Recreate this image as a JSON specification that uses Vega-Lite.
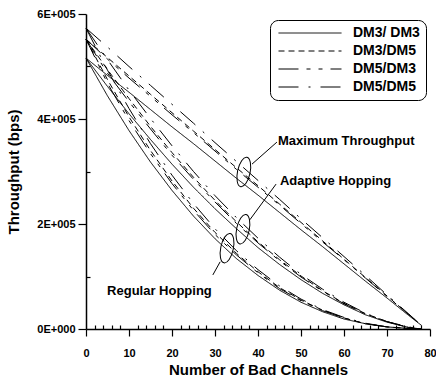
{
  "$schema": "https://vega.github.io/schema/vega-lite/v6.json",
  "width": 344,
  "height": 315,
  "autosize": {"type": "none"},
  "padding": {"left": 86, "top": 14, "right": 6, "bottom": 51},
  "background": "white",
  "config": {
    "view": {"stroke": null},
    "font": "Liberation Sans",
    "axis": {
      "domainColor": "black", "domainWidth": 1.5, "tickColor": "black", "tickWidth": 1.2,
      "labelColor": "black", "labelFont": "Liberation Sans", "labelFontWeight": "bold", "labelFontSize": 11,
      "titleColor": "black", "titleFont": "Liberation Sans", "titleFontWeight": "bold", "titleFontSize": 15,
      "grid": false, "labelOverlap": false, "labelFlush": false
    }
  },
  "encoding": {
    "x": {
      "field": "n", "type": "quantitative",
      "scale": {"domain": [0, 80], "nice": false},
      "axis": {
        "title": "Number of Bad Channels",
        "values": [0,2,4,6,8,10,12,14,16,18,20,22,24,26,28,30,32,34,36,38,40,42,44,46,48,50,52,54,56,58,60,62,64,66,68,70,72,74,76,78,80],
        "labelExpr": "datum.value % 10 == 0 ? datum.value : ''",
        "tickSize": {"condition": {"test": "datum.value % 10 == 0", "value": 7}, "value": -4},
        "labelPadding": 11,
        "titlePadding": 4
      }
    },
    "y": {
      "field": "tp", "type": "quantitative",
      "scale": {"domain": [0, 600000], "nice": false},
      "axis": {
        "title": "Throughput (bps)",
        "values": [0,100000,200000,300000,400000,500000,600000],
        "labelExpr": "datum.value % 200000 == 0 ? (datum.value == 0 ? '0E+000' : (datum.value/100000) + 'E+005') : ''",
        "tickSize": {"condition": {"test": "datum.value % 200000 == 0", "value": 8}, "value": -4},
        "labelPadding": 3,
        "titlePadding": 15
      }
    }
  },
  "layer": [
    {
      "data": {"values": [
        {"group": "Maximum", "n": 0, "DM3/ DM3": 516000, "DM3/DM5": 552000, "DM5/DM3": 552000, "DM5/DM5": 573000},
        {"group": "Maximum", "n": 5, "DM3/ DM3": 483000, "DM3/DM5": 517000, "DM5/DM3": 514000, "DM5/DM5": 537000},
        {"group": "Maximum", "n": 10, "DM3/ DM3": 451000, "DM3/DM5": 482000, "DM5/DM3": 478000, "DM5/DM5": 500000},
        {"group": "Maximum", "n": 15, "DM3/ DM3": 418000, "DM3/DM5": 447000, "DM5/DM3": 443000, "DM5/DM5": 464000},
        {"group": "Maximum", "n": 20, "DM3/ DM3": 385000, "DM3/DM5": 412000, "DM5/DM3": 408000, "DM5/DM5": 428000},
        {"group": "Maximum", "n": 25, "DM3/ DM3": 353000, "DM3/DM5": 377000, "DM5/DM3": 374000, "DM5/DM5": 392000},
        {"group": "Maximum", "n": 30, "DM3/ DM3": 320000, "DM3/DM5": 342000, "DM5/DM3": 339000, "DM5/DM5": 355000},
        {"group": "Maximum", "n": 35, "DM3/ DM3": 287000, "DM3/DM5": 307000, "DM5/DM3": 304000, "DM5/DM5": 319000},
        {"group": "Maximum", "n": 40, "DM3/ DM3": 255000, "DM3/DM5": 273000, "DM5/DM3": 270000, "DM5/DM5": 283000},
        {"group": "Maximum", "n": 45, "DM3/ DM3": 222000, "DM3/DM5": 238000, "DM5/DM3": 236000, "DM5/DM5": 247000},
        {"group": "Maximum", "n": 50, "DM3/ DM3": 189000, "DM3/DM5": 203000, "DM5/DM3": 201000, "DM5/DM5": 210000},
        {"group": "Maximum", "n": 55, "DM3/ DM3": 157000, "DM3/DM5": 168000, "DM5/DM3": 166000, "DM5/DM5": 174000},
        {"group": "Maximum", "n": 60, "DM3/ DM3": 124000, "DM3/DM5": 133000, "DM5/DM3": 132000, "DM5/DM5": 138000},
        {"group": "Maximum", "n": 65, "DM3/ DM3": 91000, "DM3/DM5": 98000, "DM5/DM3": 97000, "DM5/DM5": 102000},
        {"group": "Maximum", "n": 70, "DM3/ DM3": 59000, "DM3/DM5": 63000, "DM5/DM3": 62000, "DM5/DM5": 65000},
        {"group": "Maximum", "n": 75, "DM3/ DM3": 26000, "DM3/DM5": 28000, "DM5/DM3": 28000, "DM5/DM5": 29000},
        {"group": "Maximum", "n": 78, "DM3/ DM3": 7000, "DM3/DM5": 7000, "DM5/DM3": 7000, "DM5/DM5": 7000},
        {"group": "Adaptive", "n": 0, "DM3/ DM3": 516000, "DM3/DM5": 552000, "DM5/DM3": 552000, "DM5/DM5": 573000},
        {"group": "Adaptive", "n": 5, "DM3/ DM3": 462000, "DM3/DM5": 494000, "DM5/DM3": 487000, "DM5/DM5": 513000},
        {"group": "Adaptive", "n": 10, "DM3/ DM3": 410000, "DM3/DM5": 439000, "DM5/DM3": 433000, "DM5/DM5": 455000},
        {"group": "Adaptive", "n": 15, "DM3/ DM3": 361000, "DM3/DM5": 386000, "DM5/DM3": 381000, "DM5/DM5": 401000},
        {"group": "Adaptive", "n": 20, "DM3/ DM3": 314000, "DM3/DM5": 336000, "DM5/DM3": 331000, "DM5/DM5": 349000},
        {"group": "Adaptive", "n": 25, "DM3/ DM3": 270000, "DM3/DM5": 289000, "DM5/DM3": 285000, "DM5/DM5": 300000},
        {"group": "Adaptive", "n": 30, "DM3/ DM3": 229000, "DM3/DM5": 245000, "DM5/DM3": 242000, "DM5/DM5": 254000},
        {"group": "Adaptive", "n": 35, "DM3/ DM3": 191000, "DM3/DM5": 204000, "DM5/DM3": 201000, "DM5/DM5": 212000},
        {"group": "Adaptive", "n": 40, "DM3/ DM3": 155000, "DM3/DM5": 166000, "DM5/DM3": 164000, "DM5/DM5": 173000},
        {"group": "Adaptive", "n": 45, "DM3/ DM3": 123000, "DM3/DM5": 132000, "DM5/DM3": 130000, "DM5/DM5": 137000},
        {"group": "Adaptive", "n": 50, "DM3/ DM3": 94000, "DM3/DM5": 101000, "DM5/DM3": 99000, "DM5/DM5": 104000},
        {"group": "Adaptive", "n": 55, "DM3/ DM3": 68000, "DM3/DM5": 73000, "DM5/DM3": 72000, "DM5/DM5": 76000},
        {"group": "Adaptive", "n": 60, "DM3/ DM3": 46000, "DM3/DM5": 49000, "DM5/DM3": 48000, "DM5/DM5": 51000},
        {"group": "Adaptive", "n": 65, "DM3/ DM3": 27000, "DM3/DM5": 29000, "DM5/DM3": 29000, "DM5/DM5": 30000},
        {"group": "Adaptive", "n": 70, "DM3/ DM3": 13000, "DM3/DM5": 14000, "DM5/DM3": 14000, "DM5/DM5": 14000},
        {"group": "Adaptive", "n": 75, "DM3/ DM3": 3000, "DM3/DM5": 3000, "DM5/DM3": 3000, "DM5/DM5": 4000},
        {"group": "Adaptive", "n": 78, "DM3/ DM3": 0, "DM3/DM5": 0, "DM5/DM3": 0, "DM5/DM5": 0},
        {"group": "Regular", "n": 0, "DM3/ DM3": 516000, "DM3/DM5": 552000, "DM5/DM3": 552000, "DM5/DM5": 573000},
        {"group": "Regular", "n": 5, "DM3/ DM3": 444000, "DM3/DM5": 475000, "DM5/DM3": 468000, "DM5/DM5": 493000},
        {"group": "Regular", "n": 10, "DM3/ DM3": 378000, "DM3/DM5": 404000, "DM5/DM3": 397000, "DM5/DM5": 420000},
        {"group": "Regular", "n": 15, "DM3/ DM3": 318000, "DM3/DM5": 340000, "DM5/DM3": 334000, "DM5/DM5": 353000},
        {"group": "Regular", "n": 20, "DM3/ DM3": 264000, "DM3/DM5": 282000, "DM5/DM3": 277000, "DM5/DM5": 293000},
        {"group": "Regular", "n": 25, "DM3/ DM3": 215000, "DM3/DM5": 230000, "DM5/DM3": 226000, "DM5/DM5": 239000},
        {"group": "Regular", "n": 30, "DM3/ DM3": 172000, "DM3/DM5": 184000, "DM5/DM3": 180000, "DM5/DM5": 191000},
        {"group": "Regular", "n": 35, "DM3/ DM3": 134000, "DM3/DM5": 144000, "DM5/DM3": 141000, "DM5/DM5": 149000},
        {"group": "Regular", "n": 40, "DM3/ DM3": 102000, "DM3/DM5": 109000, "DM5/DM3": 107000, "DM5/DM5": 113000},
        {"group": "Regular", "n": 45, "DM3/ DM3": 74000, "DM3/DM5": 79000, "DM5/DM3": 77000, "DM5/DM5": 82000},
        {"group": "Regular", "n": 50, "DM3/ DM3": 51000, "DM3/DM5": 55000, "DM5/DM3": 54000, "DM5/DM5": 57000},
        {"group": "Regular", "n": 55, "DM3/ DM3": 33000, "DM3/DM5": 36000, "DM5/DM3": 35000, "DM5/DM5": 37000},
        {"group": "Regular", "n": 60, "DM3/ DM3": 19000, "DM3/DM5": 21000, "DM5/DM3": 21000, "DM5/DM5": 22000},
        {"group": "Regular", "n": 65, "DM3/ DM3": 10000, "DM3/DM5": 10000, "DM5/DM3": 10000, "DM5/DM5": 11000},
        {"group": "Regular", "n": 70, "DM3/ DM3": 4000, "DM3/DM5": 4000, "DM5/DM3": 4000, "DM5/DM5": 4000},
        {"group": "Regular", "n": 75, "DM3/ DM3": 1000, "DM3/DM5": 1000, "DM5/DM3": 1000, "DM5/DM5": 1000},
        {"group": "Regular", "n": 78, "DM3/ DM3": 0, "DM3/DM5": 0, "DM5/DM3": 0, "DM5/DM5": 0}
      ]},
      "transform": [{"fold": ["DM3/ DM3", "DM3/DM5", "DM5/DM3", "DM5/DM5"], "as": ["type", "tp"]}],
      "mark": {"type": "line", "color": "black", "strokeWidth": 1},
      "encoding": {
        "detail": {"field": "group", "type": "nominal"},
        "strokeDash": {
          "field": "type", "type": "nominal",
          "scale": {"domain": ["DM3/ DM3", "DM3/DM5", "DM5/DM3", "DM5/DM5"], "range": [[1, 0], [6, 4], [20, 8, 4, 8, 4, 8], [20, 10, 2, 10]]},
          "legend": {
            "title": null, "orient": "none", "legendX": 184, "legendY": 6,
            "symbolType": "M-6.3,0H6.3", "symbolSize": 100, "symbolStrokeWidth": 1, "symbolStrokeColor": "black",
            "symbolOffset": 27, "labelOffset": 36,
            "labelFont": "Liberation Sans", "labelFontSize": 14, "labelFontWeight": "bold", "labelColor": "black",
            "strokeColor": "black", "cornerRadius": 8, "padding": 6, "fillColor": "white", "rowPadding": 4
          }
        }
      }
    },
    {
      "data": {"values": [
        {"n": 36.7, "tp": 299000},
        {"n": 36.5, "tp": 190000},
        {"n": 32.8, "tp": 154000}
      ]},
      "mark": {"type": "point", "shape": "M0,-1A0.42,1,0,1,1,0,1A0.42,1,0,1,1,0,-1Z", "size": 900, "filled": false, "stroke": "black", "strokeWidth": 1, "angle": 12, "opacity": 1}
    },
    {
      "data": {"values": [
        {"n": 44.4, "tp": 356000, "n2": 38.6, "tp2": 314000},
        {"n": 44.2, "tp": 276000, "n2": 38.1, "tp2": 208000},
        {"n": 29.5, "tp": 103000, "n2": 31.2, "tp2": 128000}
      ]},
      "mark": {"type": "rule", "color": "black", "strokeWidth": 1},
      "encoding": {
        "x2": {"field": "n2"},
        "y2": {"field": "tp2"}
      }
    },
    {
      "data": {"values": [
        {"n": 44.65, "tp": 358000, "label": "Maximum Throughput"},
        {"n": 45.1, "tp": 282000, "label": "Adaptive Hopping"},
        {"n": 4.9, "tp": 72000, "label": "Regular Hopping"}
      ]},
      "mark": {"type": "text", "align": "left", "baseline": "middle", "font": "Liberation Sans", "fontWeight": "bold", "fontSize": 13, "color": "black"},
      "encoding": {"text": {"field": "label", "type": "nominal"}}
    }
  ]
}
